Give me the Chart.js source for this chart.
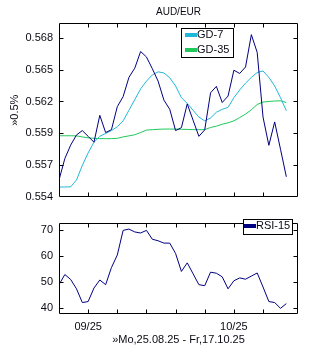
<!DOCTYPE html>
<html><head><meta charset="utf-8">
<script src="https://cdn.jsdelivr.net/npm/chart.js@4.4.1/dist/chart.umd.min.js"></script>
<style>
html,body{margin:0;padding:0;background:#fff;}
#wrap{position:relative;width:310px;height:350px;overflow:hidden;}
canvas{position:absolute;left:0;}
#c1{top:0;width:310px;height:210px;}
#c2{top:210px;width:310px;height:140px;}
</style></head><body>
<div id="wrap"><canvas id="c1" width="310" height="210"></canvas><canvas id="c2" width="310" height="140"></canvas></div>
<script>
// ---- data ----
const chartTitle = 'AUD/EUR';
const yAxisTitle = '»0.5%';
const xAxisTitle = '»Mo,25.08.25 - Fr,17.10.25';
const seriesNames = ['GD-7', 'GD-35', 'RSI-15'];
const price = [0.55546,0.55731,0.55848,0.55936,0.55974,0.55924,0.55873,0.56106,0.55957,0.55982,
               0.56181,0.56268,0.56435,0.56515,0.56659,0.56612,0.56511,0.56402,0.56238,0.56158,
               0.55974,0.55999,0.56205,0.56064,0.55924,0.55980,0.56301,0.56357,0.56217,0.56273,
               0.56497,0.56469,0.56525,0.56805,0.56651,0.56091,0.55846,0.56049,0.55812,0.55574];
const gd7 = [0.55485,0.55485,0.55487,0.55546,0.55672,0.55781,0.55873,0.55924,0.55949,0.55974,
             0.56007,0.56058,0.56150,0.56242,0.56335,0.56402,0.56456,0.56483,0.56473,0.56431,
             0.56360,0.56259,0.56209,0.56150,0.56091,0.56058,0.56083,0.56133,0.56158,0.56175,
             0.56259,0.56326,0.56385,0.56435,0.56477,0.56490,0.56435,0.56360,0.56259,0.56146];
const gd35 = [0.55929,0.55929,0.55929,0.55928,0.55919,0.55911,0.55907,0.55904,0.55904,0.55904,
              0.55907,0.55919,0.55928,0.55938,0.55957,0.55978,0.55982,0.55985,0.55987,0.55987,
              0.55987,0.55985,0.55984,0.55982,0.55982,0.55982,0.56001,0.56012,0.56029,0.56041,
              0.56058,0.56087,0.56117,0.56154,0.56200,0.56221,0.56226,0.56230,0.56232,0.56217];
const rsi = [49.1,53.0,51.1,47.5,42.2,42.6,47.8,50.9,49.1,55.7,
             60.5,70.0,70.5,69.4,69.0,70.0,66.6,66.0,65.1,65.1,
             61.1,54.2,57.5,53.3,49.1,48.7,53.9,53.5,52.1,47.5,
             50.6,51.7,51.2,52.4,53.6,48.2,42.6,42.2,40.0,41.8];
const priceTickValues = [0.55395,0.55672,0.55949,0.56226,0.56503,0.56780];
const priceTickLabels = ['0.554','0.557','0.559','0.562','0.565','0.568'];
const rsiTickValues = [40,50,60,70];
const xTickValues = [5,10,15,20,25,30,35];
const xTickLabels = ['09/25','','','','','10/25',''];

// ---- styles ----
const TXT = '#0a0a14';
const FONT = "'Liberation Sans', Arial, sans-serif";
const NAVY = '#000080', CYAN = '#20b8d8', GREEN = '#1ec85a';

const pts = arr => arr.map((v, i) => ({x: i, y: v}));

const framePlugin = {
  id: 'frame',
  afterDatasetsDraw(chart, args, o) {
    const {ctx, chartArea: a, scales} = chart;
    ctx.save();
    ctx.strokeStyle = '#000'; ctx.lineWidth = 1;
    ctx.beginPath();
    const l = Math.round(a.left) + 0.5, r = Math.round(a.right) - 0.5;
    const t = Math.round(a.top) + 0.5, b = Math.round(a.bottom) - 0.5;
    ctx.rect(l, t, r - l, b - t);
    const L = 4;
    for (const v of o.xTicks) {
      const x = Math.round(scales.x.getPixelForValue(v)) + 0.5;
      ctx.moveTo(x, t); ctx.lineTo(x, t + L);
      ctx.moveTo(x, b); ctx.lineTo(x, b - L);
    }
    for (const tk of scales.y.ticks) {
      const y = Math.round(scales.y.getPixelForValue(tk.value)) + 0.5;
      if (y <= t + 1 || y >= b - 1) continue;
      ctx.moveTo(l, y); ctx.lineTo(l + L, y);
      ctx.moveTo(r, y); ctx.lineTo(r - L, y);
    }
    ctx.stroke();
    ctx.restore();
  }
};

const boxLegend = {
  id: 'boxLegend',
  afterDraw(chart, args, o) {
    const ctx = chart.ctx;
    const items = chart.data.datasets.filter(d => d.inLegend);
    ctx.save();
    ctx.fillStyle = '#fff';
    ctx.fillRect(o.x, o.y, o.w, o.h);
    ctx.strokeStyle = '#000'; ctx.lineWidth = 1;
    ctx.strokeRect(o.x + 0.5, o.y + 0.5, o.w, o.h);
    ctx.font = '11px ' + FONT;
    ctx.textBaseline = 'middle'; ctx.textAlign = 'left';
    items.forEach((d, i) => {
      const cy = o.y + o.first + i * o.row;
      ctx.fillStyle = d.borderColor;
      ctx.fillRect(o.x + o.s0, cy - 2, o.s1 - o.s0, 4);
      ctx.fillStyle = TXT;
      ctx.fillText(d.label, o.x + o.s1, cy);
    });
    ctx.restore();
  }
};

const lineDs = (label, data, color, order, inLegend) => ({
  label, data: pts(data), borderColor: color, backgroundColor: color,
  borderWidth: 1, pointRadius: 0, tension: 0, fill: false, order, inLegend
});

new Chart(document.getElementById('c1'), {
  type: 'line',
  data: { datasets: [
    lineDs('AUD/EUR', price, NAVY, 0, false),
    lineDs(seriesNames[0], gd7, CYAN, 1, true),
    lineDs(seriesNames[1], gd35, GREEN, 2, true)
  ]},
  options: {
    responsive: false, animation: false, devicePixelRatio: 1,
    layout: { padding: { top: 0, right: 12, bottom: 7, left: 0 } },
    scales: {
      x: { type: 'linear', min: 0, max: 41, display: false },
      y: {
        type: 'linear', min: 0.55395, max: 0.56906,
        afterBuildTicks: s => { s.ticks = priceTickValues.map(v => ({value: v})); },
        afterFit: s => { s.width = 59; },
        grid: { display: false, drawTicks: false }, border: { display: false },
        ticks: { padding: 6, color: TXT, font: { family: FONT, size: 11 },
          callback: v => priceTickLabels[priceTickValues.indexOf(v)] },
        title: { display: true, text: yAxisTitle, color: TXT, font: { family: FONT, size: 11 }, padding: { top: 8, bottom: 0 } }
      }
    },
    plugins: {
      legend: { display: false }, tooltip: { enabled: false },
      title: { display: true, text: chartTitle, fullSize: false, color: TXT,
        font: { family: FONT, size: 10, weight: 'normal' }, padding: { top: 6, bottom: 5 } },
      frame: { xTicks: xTickValues },
      boxLegend: { x: 181, y: 28, w: 52, h: 29, first: 7, row: 15, s0: 4, s1: 16 }
    }
  },
  plugins: [framePlugin, boxLegend]
});

new Chart(document.getElementById('c2'), {
  type: 'line',
  data: { datasets: [ lineDs(seriesNames[2], rsi, NAVY, 0, true) ] },
  options: {
    responsive: false, animation: false, devicePixelRatio: 1,
    layout: { padding: { top: 7, right: 12, bottom: 0, left: 0 } },
    scales: {
      x: {
        type: 'linear', min: 0, max: 41,
        afterBuildTicks: s => { s.ticks = xTickValues.map(v => ({value: v})); },
        afterFit: s => { s.height = 36; },
        grid: { display: false, drawTicks: false }, border: { display: false },
        ticks: { autoSkip: false, maxRotation: 0, padding: 6, color: TXT, font: { family: FONT, size: 11 },
          callback: v => xTickLabels[xTickValues.indexOf(v)] || '' },
        title: { display: true, text: xAxisTitle, color: TXT, font: { family: FONT, size: 11 }, padding: { top: 0, bottom: 3 } }
      },
      y: {
        type: 'linear', min: 37.8, max: 73.0,
        afterBuildTicks: s => { s.ticks = rsiTickValues.map(v => ({value: v})); },
        afterFit: s => { s.width = 59; },
        grid: { display: false, drawTicks: false }, border: { display: false },
        ticks: { padding: 6, color: TXT, font: { family: FONT, size: 11 } }
      }
    },
    plugins: {
      legend: { display: false }, tooltip: { enabled: false },
      frame: { xTicks: xTickValues },
      boxLegend: { x: 243, y: 9, w: 49, h: 15, first: 7, row: 15, s0: 1, s1: 13 }
    }
  },
  plugins: [framePlugin, boxLegend]
});
</script>
</body></html>
